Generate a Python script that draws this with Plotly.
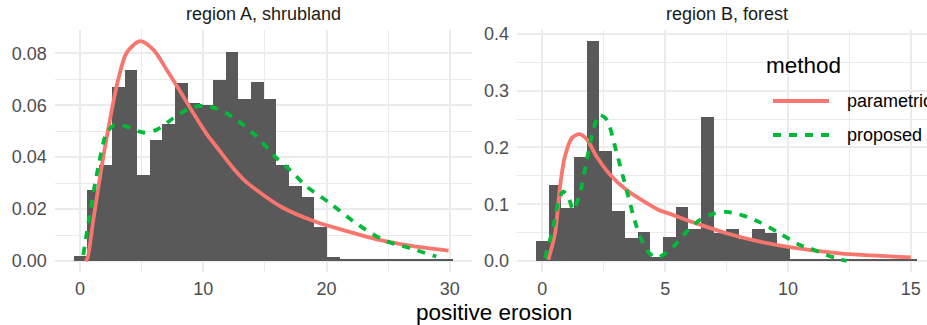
import numpy as np
import plotly.graph_objects as go

# ---------------- data ----------------
panel_titles = ["region A, shrubland", "region B, forest"]
x_title = "positive erosion"
legend_title = "method"
method_names = ["parametric", "proposed"]

# histogram (density) of region A, 30 bins
a_bin_width = 1.026
a_density = [0.0020, 0.0274, 0.0368, 0.0671, 0.0737, 0.0333, 0.0467, 0.0529,
             0.0687, 0.0608, 0.0602, 0.0698, 0.0806, 0.0623, 0.0691, 0.0623,
             0.0368, 0.0287, 0.0248, 0.0130, 0.0016, 0.0004, 0.0004, 0.0004,
             0.0004, 0.0004, 0.0004, 0.0004, 0.0004, 0.0004]

# histogram (density) of region B, 30 bins
b_bin_width = 0.517
b_density = [0.036, 0.134, 0.093, 0.1835, 0.388, 0.194, 0.088, 0.041, 0.051,
             0.007, 0.042, 0.095, 0.057, 0.254, 0.049, 0.0565, 0.038, 0.0565,
             0.050, 0.024, 0.0018, 0.0018, 0.0018, 0.0018, 0.0018, 0.0018,
             0.0018, 0.0018, 0.0018, 0.0018]

# region A curves
a_param_x = [0.45, 0.6, 1.08, 1.76, 2.43, 3.1, 3.78, 4.87, 5.95, 7.03, 8.11,
             9.19, 10.27, 10.95, 12.57, 13.65, 16.35, 19.06, 21.5, 24.3, 27.0, 29.9]
a_param_y = [0.0, 0.001, 0.0158, 0.0364, 0.0544, 0.0699, 0.0802, 0.0847, 0.0814,
             0.0737, 0.0655, 0.0570, 0.0490, 0.0448, 0.0350, 0.0298, 0.0208,
             0.0152, 0.0117, 0.0081, 0.0057, 0.0040]
a_prop_x = [0.27, 0.81, 1.49, 2.16, 2.84, 3.78, 5.14, 6.22, 7.57, 8.92, 10.0,
            11.35, 12.7, 14.33, 15.95, 17.03, 18.38, 20.27, 22.2, 24.6, 26.8, 28.9]
a_prop_y = [0.0023, 0.0184, 0.0364, 0.0493, 0.0525, 0.0518, 0.0495, 0.0506,
            0.0550, 0.0589, 0.0598, 0.0583, 0.0544, 0.0480, 0.0396, 0.0351,
            0.0287, 0.0223, 0.0152, 0.0081, 0.0049, 0.0017]

# region B curves
b_param_x = [0.245, 0.52, 0.72, 0.92, 1.2, 1.51, 1.81, 2.21, 2.76, 3.43, 4.25,
             4.79, 5.2, 6.15, 7.5, 8.86, 10.2, 12.1, 15.0]
b_param_y = [0.002, 0.049, 0.131, 0.184, 0.2165, 0.2235, 0.2147, 0.184, 0.152,
             0.125, 0.102, 0.089, 0.083, 0.068, 0.0489, 0.034, 0.0235, 0.0136, 0.0065]
b_prop_x = [0.11, 0.45, 0.65, 0.85, 1.06, 1.26, 1.53, 1.81, 2.08, 2.31, 2.62,
            3.03, 3.43, 3.84, 4.25, 4.59, 4.79, 5.33, 5.88, 6.42, 6.96, 7.5,
            8.18, 8.86, 9.54, 10.49, 10.9, 11.57, 11.98, 12.39]
b_prop_y = [0.005, 0.0605, 0.105, 0.122, 0.113, 0.090, 0.119, 0.178, 0.231,
            0.2576, 0.249, 0.190, 0.125, 0.0605, 0.0194, 0.0065, 0.0076, 0.025,
            0.0517, 0.0723, 0.083, 0.0865, 0.080, 0.068, 0.052, 0.028, 0.0224,
            0.0106, 0.0048, 0.0]

a_xticks = [0, 10, 20, 30]
a_yticks = [0.00, 0.02, 0.04, 0.06, 0.08]
b_xticks = [0, 5, 10, 15]
b_yticks = [0.0, 0.1, 0.2, 0.3, 0.4]

# ---------------- styling ----------------
W, H = 927, 325
BAR = "#595959"
RED = "#F8766D"
GREEN = "#00BA38"
GRID = "#EBEBEB"
FONT = "Liberation Sans, Arial, sans-serif"
TICK_SIZE = 18
LEG_SIZE = 18
TITLE_SIZE = 22.5

a_centers = np.arange(len(a_density)) * a_bin_width
b_centers = np.arange(len(b_density)) * b_bin_width

fig = go.Figure()
fig.add_trace(go.Bar(x=a_centers, y=a_density, width=a_bin_width, marker=dict(color=BAR, line=dict(width=0)),
                     xaxis="x", yaxis="y", showlegend=False, hoverinfo="skip"))
fig.add_trace(go.Bar(x=b_centers, y=b_density, width=b_bin_width, marker=dict(color=BAR, line=dict(width=0)),
                     xaxis="x2", yaxis="y2", showlegend=False, hoverinfo="skip"))

LW = 3.8
DASH = "8px,8px"
fig.add_trace(go.Scatter(x=a_param_x, y=a_param_y, mode="lines", line=dict(color=RED, width=LW, shape="spline", smoothing=0.8),
                         xaxis="x", yaxis="y", name=method_names[0], showlegend=False))
fig.add_trace(go.Scatter(x=a_prop_x, y=a_prop_y, mode="lines", line=dict(color=GREEN, width=LW, dash=DASH, shape="spline", smoothing=0.8),
                         xaxis="x", yaxis="y", name=method_names[1], showlegend=False))
fig.add_trace(go.Scatter(x=b_param_x, y=b_param_y, mode="lines", line=dict(color=RED, width=LW, shape="spline", smoothing=0.8),
                         xaxis="x2", yaxis="y2", name=method_names[0], showlegend=False))
fig.add_trace(go.Scatter(x=b_prop_x, y=b_prop_y, mode="lines", line=dict(color=GREEN, width=LW, dash=DASH, shape="spline", smoothing=0.8),
                         xaxis="x2", yaxis="y2", name=method_names[1], showlegend=False))

ML, MR, MT, MB = 0, 0, 30, 53
plot_h = H - MT - MB


def px2x(px):
    return px / W


def py2y(py):
    return (H - MB - py) / plot_h


axis_common = dict(showline=False, zeroline=False, ticks="", showgrid=True, gridcolor=GRID, gridwidth=2,
                   automargin=False,
                   tickfont=dict(family=FONT, size=TICK_SIZE, color="#4D4D4D"))

fig.update_layout(
    width=W, height=H,
    margin=dict(l=ML, r=MR, t=MT, b=MB, autoexpand=False),
    paper_bgcolor="white", plot_bgcolor="white",
    bargap=0, barmode="overlay",
    showlegend=False,
    xaxis=dict(domain=[54.7 / W, 472 / W], range=[-2.05, 31.8], tickvals=a_xticks,
               ticktext=[str(v) for v in a_xticks], ticklabelstandoff=4,
               minor=dict(dtick=5, tick0=0, showgrid=True, gridcolor=GRID, gridwidth=1), anchor="y", **axis_common),
    yaxis=dict(domain=[0, 1], range=[-0.00425, 0.089], tickvals=a_yticks,
               ticktext=["%.2f" % v for v in a_yticks], ticklabelstandoff=7,
               minor=dict(dtick=0.01, tick0=0, showgrid=True, gridcolor=GRID, gridwidth=1), anchor="x", **axis_common),
    xaxis2=dict(domain=[517 / W, 1], range=[-1.03, 15.66], tickvals=b_xticks,
                ticktext=[str(v) for v in b_xticks], ticklabelstandoff=4,
                minor=dict(dtick=2.5, tick0=0, showgrid=True, gridcolor=GRID, gridwidth=1), anchor="y2", **axis_common),
    yaxis2=dict(domain=[0, 1], range=[-0.0194, 0.407], tickvals=b_yticks,
                ticktext=["%.1f" % v for v in b_yticks], ticklabelstandoff=7,
                minor=dict(dtick=0.05, tick0=0, showgrid=True, gridcolor=GRID, gridwidth=1), anchor="x2", **axis_common),
)

annotations = [
    dict(text=panel_titles[0], x=px2x(263.3), y=py2y(14), xref="paper", yref="paper",
         xanchor="center", yanchor="middle", showarrow=False,
         font=dict(family=FONT, size=TICK_SIZE, color="#1A1A1A")),
    dict(text=panel_titles[1], x=px2x(726.6), y=py2y(14), xref="paper", yref="paper",
         xanchor="center", yanchor="middle", showarrow=False,
         font=dict(family=FONT, size=TICK_SIZE, color="#1A1A1A")),
    dict(text=x_title, x=px2x(494), y=py2y(312.5), xref="paper", yref="paper",
         xanchor="center", yanchor="middle", showarrow=False,
         font=dict(family=FONT, size=TITLE_SIZE, color="#000000")),
    dict(text=legend_title, x=px2x(764), y=py2y(65), xref="paper", yref="paper",
         xanchor="left", yanchor="middle", showarrow=False,
         font=dict(family=FONT, size=TITLE_SIZE, color="#000000")),
    dict(text=method_names[0], x=px2x(845), y=py2y(101), xref="paper", yref="paper",
         xanchor="left", yanchor="middle", showarrow=False,
         font=dict(family=FONT, size=LEG_SIZE, color="#000000")),
    dict(text=method_names[1], x=px2x(845), y=py2y(135), xref="paper", yref="paper",
         xanchor="left", yanchor="middle", showarrow=False,
         font=dict(family=FONT, size=LEG_SIZE, color="#000000")),
]
fig.update_layout(annotations=annotations)

shapes = [
    dict(type="line", xref="paper", yref="paper", x0=px2x(773), x1=px2x(829), y0=py2y(101), y1=py2y(101),
         line=dict(color=RED, width=LW)),
    dict(type="line", xref="paper", yref="paper", x0=px2x(773), x1=px2x(829), y0=py2y(135), y1=py2y(135),
         line=dict(color=GREEN, width=LW, dash=DASH)),
]
fig.update_layout(shapes=shapes)

# remove the browser's default page margin so the figure sits at the window origin
fig.write_html("out.html",
               config={"displayModeBar": False},
               post_script="document.body.style.margin='0';document.body.style.overflow='hidden';")
